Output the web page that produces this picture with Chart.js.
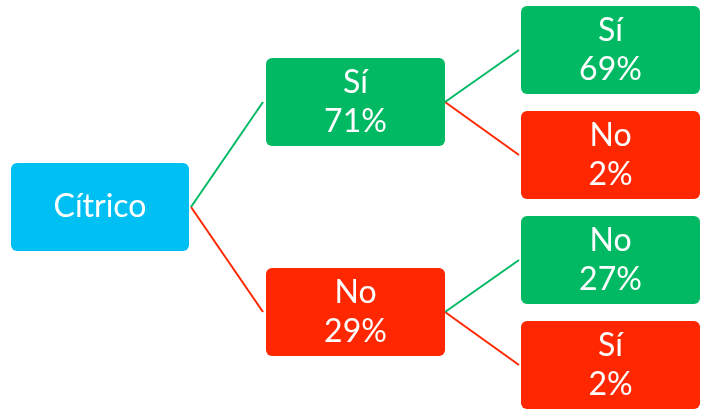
<!DOCTYPE html>
<html>
<head>
<meta charset="utf-8">
<script src="https://cdn.jsdelivr.net/npm/chart.js@4.4.1/dist/chart.umd.min.js"></script>
<style>
  html, body { margin: 0; padding: 0; background: #fff; }
  #wrap { width: 701px; height: 412px; }
</style>
</head>
<body>
<div id="wrap"><canvas id="tree"></canvas></div>
<script>
// tree data
const rootLabel = 'Cítrico';
const level1Labels = ['Sí', 'No'];
const level1Values = [71, 29];
const level2Labels = ['Sí', 'No', 'No', 'Sí'];
const level2Values = [69, 2, 27, 2];

// colours and layout (pixel units of the hidden scales)
const GREEN = '#00B962';
const RED = '#FF2700';
const BLUE = '#00BFF3';
const cols = [[11, 189], [266, 445], [521, 700]];
const rootY = 207;
const level1Y = [102, 312];
const level2Y = [50, 155, 260, 365];
const boxH = 88;

// build node list
const nodes = [];
nodes.push({ col: 0, y: rootY, lines: [rootLabel], color: BLUE });
level1Labels.forEach((lab, i) => {
    nodes.push({ col: 1, y: level1Y[i], lines: [lab, level1Values[i] + '%'], color: i === 0 ? GREEN : RED });
});
level2Labels.forEach((lab, i) => {
    nodes.push({ col: 2, y: level2Y[i], lines: [lab, level2Values[i] + '%'], color: i % 2 === 0 ? GREEN : RED });
});

// connectors as line datasets
const datasets = [];
function link(x1, y1, x2, y2, color) {
    datasets.push({
        data: [{ x: x1, y: y1 }, { x: x2, y: y2 }],
        borderColor: color,
        borderWidth: 2,
        showLine: true,
        pointRadius: 0
    });
}
level1Y.forEach((y, i) => link(cols[0][1] + 2, rootY, cols[1][0] - 3, y, i === 0 ? GREEN : RED));
level2Y.forEach((y, i) => {
    const parentY = level1Y[Math.floor(i / 2)];
    link(cols[1][1], parentY, cols[2][0] - 2, y, i % 2 === 0 ? GREEN : RED);
});

// draw the boxes with text
const boxPlugin = {
    id: 'boxes',
    afterDatasetsDraw(chart) {
        const ctx = chart.ctx;
        const xs = chart.scales.x, ys = chart.scales.y;
        ctx.save();
        nodes.forEach(n => {
            const left = xs.getPixelForValue(cols[n.col][0]);
            const right = xs.getPixelForValue(cols[n.col][1]);
            const top = ys.getPixelForValue(n.y - boxH / 2);
            const bottom = ys.getPixelForValue(n.y + boxH / 2);
            ctx.fillStyle = n.color;
            ctx.beginPath();
            ctx.roundRect(left, top, right - left, bottom - top, 6);
            ctx.fill();
            ctx.fillStyle = '#fff';
            ctx.font = '32px Lato, "Open Sans", sans-serif';
            ctx.textAlign = 'center';
            ctx.textBaseline = 'middle';
            const cx = (left + right) / 2;
            const cy = (top + bottom) / 2;
            const lh = 39;
            n.lines.forEach((t, k) => {
                const off = (k - (n.lines.length - 1) / 2) * lh;
                ctx.fillText(t, cx, cy + off);
            });
        });
        ctx.restore();
    }
};

new Chart(document.getElementById('tree'), {
    type: 'scatter',
    data: { datasets: datasets },
    options: {
        responsive: true,
        maintainAspectRatio: false,
        animation: false,
        layout: { padding: 0 },
        scales: {
            x: { type: 'linear', min: 0, max: 701, display: false },
            y: { type: 'linear', min: 0, max: 412, reverse: true, display: false }
        },
        plugins: {
            legend: { display: false },
            tooltip: { enabled: false }
        }
    },
    plugins: [boxPlugin]
});
</script>
</body>
</html>
